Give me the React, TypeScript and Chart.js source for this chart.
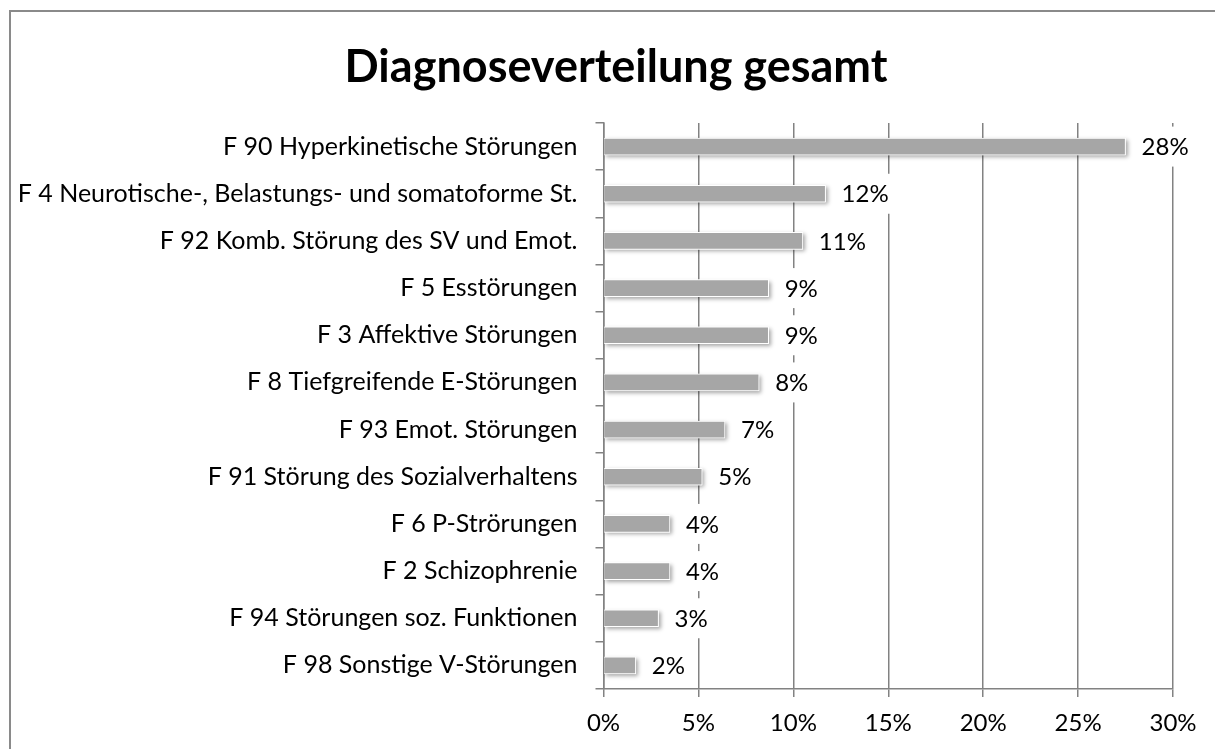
import React, { useEffect, useRef } from "react";
import { Chart, registerables } from "chart.js";

Chart.register(...registerables);

const categories = [
  "F 90 Hyperkinetische Störungen",
  "F 4 Neurotische-, Belastungs- und somatoforme St.",
  "F 92 Komb. Störung des SV und Emot.",
  "F 5 Esstörungen",
  "F 3 Affektive Störungen",
  "F 8 Tiefgreifende E-Störungen",
  "F 93 Emot. Störungen",
  "F 91 Störung des Sozialverhaltens",
  "F 6 P-Strörungen",
  "F 2 Schizophrenie",
  "F 94 Störungen soz. Funktionen",
  "F 98 Sonstige V-Störungen",
];

const values = [27.5, 11.7, 10.5, 8.7, 8.7, 8.2, 6.4, 5.2, 3.5, 3.5, 2.9, 1.7];

const valueLabels = ["28%", "12%", "11%", "9%", "9%", "8%", "7%", "5%", "4%", "4%", "3%", "2%"];

const chartTitle = "Diagnoseverteilung gesamt";

const xMin = 0;
const xMax = 30;
const xStep = 5;

const FONT = "Lato";
const GRID = "#828282";

export default function App() {
  const ref = useRef<HTMLCanvasElement | null>(null);

  useEffect(() => {
    const canvas = ref.current;
    if (!canvas) return;

    const titlePlugin = {
      id: "customTitle",
      afterDraw(chart: any) {
        const ctx = chart.ctx;
        ctx.save();
        ctx.font = `bold 45px ${FONT}`;
        ctx.fillStyle = "#000000";
        ctx.textAlign = "center";
        ctx.textBaseline = "middle";
        ctx.fillText(chartTitle, 616, 67);
        ctx.restore();
      },
    };

    const shadowPlugin = {
      id: "barShadow",
      beforeDatasetsDraw(chart: any) {
        const ctx = chart.ctx;
        const meta = chart.getDatasetMeta(0);
        ctx.save();
        ctx.shadowColor = "rgba(0,0,0,0.35)";
        ctx.shadowBlur = 4;
        ctx.shadowOffsetX = 2;
        ctx.shadowOffsetY = 2;
        ctx.fillStyle = "#ffffff";
        meta.data.forEach((el: any) => {
          const p = el.getProps(["x", "y", "base", "height"], true);
          const left = Math.min(p.x, p.base);
          const w = Math.abs(p.x - p.base);
          ctx.fillRect(left, p.y - p.height / 2, w, p.height);
        });
        ctx.restore();
      },
    };

    const labelPlugin = {
      id: "valueLabels",
      afterDatasetsDraw(chart: any) {
        const ctx = chart.ctx;
        const meta = chart.getDatasetMeta(0);
        ctx.save();
        ctx.font = `24px ${FONT}`;
        ctx.textBaseline = "middle";
        ctx.textAlign = "left";
        meta.data.forEach((el: any, i: number) => {
          const p = el.getProps(["x", "y"], true);
          const text = valueLabels[i];
          const tx = p.x + 16;
          const w = ctx.measureText(text).width;
          ctx.fillStyle = "#ffffff";
          ctx.fillRect(tx - 8, p.y - 20, w + 16, 40);
          ctx.fillStyle = "#000000";
          ctx.fillText(text, tx, p.y + 1);
        });
        ctx.restore();
      },
    };

    const chart = new Chart(canvas, {
      type: "bar",
      data: {
        labels: categories,
        datasets: [
          {
            data: values,
            backgroundColor: "#a6a6a6",
            borderColor: "#ffffff",
            borderWidth: 1,
            borderSkipped: "start",
            barThickness: 17,
          },
        ],
      },
      options: {
        indexAxis: "y",
        responsive: false,
        animation: false,
        devicePixelRatio: 1,
        layout: { padding: { left: 0, right: 42, top: 123, bottom: 0 } },
        plugins: {
          legend: { display: false },
          tooltip: { enabled: false },
          title: { display: false },
        },
        scales: {
          x: {
            type: "linear",
            min: xMin,
            max: xMax,
            ticks: {
              stepSize: xStep,
              color: "#000000",
              font: { family: FONT, size: 24 },
              padding: 12,
              callback: (v: any) => `${v}%`,
            },
            grid: {
              color: GRID,
              lineWidth: 1.5,
              tickLength: 8,
              drawTicks: true,
            },
            border: { color: GRID, width: 1.5 },
            afterFit: (scale: any) => {
              scale.height = 60;
            },
          },
          y: {
            z: 1,
            ticks: {
              color: "#000000",
              font: { family: FONT, size: 25 },
              padding: 18,
              autoSkip: false,
            },
            grid: {
              display: true,
              drawOnChartArea: false,
              drawTicks: true,
              tickLength: 8,
              color: GRID,
              lineWidth: 1.5,
              offset: true,
            },
            border: { color: GRID, width: 1.5 },
            afterFit: (scale: any) => {
              scale.width = 603.5;
            },
          },
        },
      },
      plugins: [shadowPlugin, labelPlugin, titlePlugin],
    } as any);

    return () => {
      chart.destroy();
    };
  }, []);

  return (
    <div
      style={{
        position: "fixed",
        left: 0,
        top: 0,
        width: 1215,
        height: 749,
        overflow: "hidden",
        background: "#ffffff",
      }}
    >
      <div
        style={{
          position: "absolute",
          left: 9,
          top: 10,
          width: 1400,
          height: 1000,
          border: "2px solid #8a8a8a",
          boxSizing: "border-box",
        }}
      />
      <canvas
        ref={ref}
        width={1215}
        height={749}
        style={{ position: "absolute", left: 0, top: 0, width: 1215, height: 749 }}
      />
    </div>
  );
}
